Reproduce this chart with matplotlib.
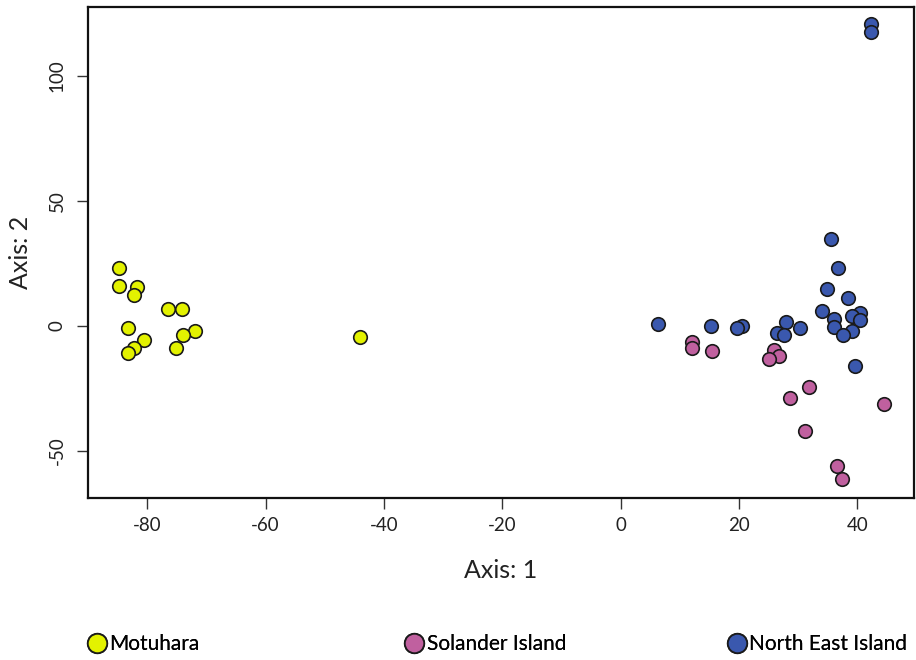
import matplotlib
matplotlib.use("Agg")
import matplotlib.pyplot as plt
from matplotlib.lines import Line2D

plt.rcParams['font.family'] = ['Lato', 'DejaVu Sans']
plt.rcParams['axes.unicode_minus'] = False

# ordination scores
moto_x = [-84.8, -84.8, -81.7, -82.3, -76.5, -74.1, -83.3, -71.9, -74.0,
          -80.6, -82.2, -75.1, -83.3, -44.0]
moto_y = [23.1, 16.0, 15.7, 12.4, 6.9, 6.9, -0.8, -1.9, -3.5,
          -5.5, -8.7, -8.7, -10.9, -4.4]

sol_x = [12.1, 12.1, 15.4, 26.0, 26.8, 25.1, 31.9, 28.7, 44.6, 31.1, 36.6, 37.5]
sol_y = [-6.3, -8.7, -9.9, -9.6, -12.1, -13.2, -24.3, -28.8, -31.3, -42.1, -56.0, -61.1]

ne_x = [42.4, 42.4, 35.6, 36.8, 34.9, 38.4, 34.0, 40.4, 39.1, 36.1, 40.4,
        6.3, 27.9, 15.3, 20.6, 19.7, 30.4, 36.0, 39.2, 26.5, 27.6, 37.6, 39.7]
ne_y = [120.7, 117.5, 34.7, 23.1, 14.8, 11.2, 6.0, 5.3, 4.1, 2.8, 2.4,
        0.8, 1.7, -0.1, 0.0, -0.9, -0.9, -0.3, -1.9, -2.8, -3.6, -3.6, -16.1]

groups = ['Motuhara', 'Solander Island', 'North East Island']
colors = ['#e3f200', '#c0609f', '#3a58ae']

fig = plt.figure(figsize=(9.16, 6.6), dpi=100)
ax = fig.add_axes([0.0961, 0.2455, 0.9017, 0.7439])

for xs, ys, c in zip([moto_x, sol_x, ne_x], [moto_y, sol_y, ne_y], colors):
    ax.scatter(xs, ys, s=95, c=c, edgecolors='#1a1a1a', linewidths=1.2, zorder=3)

ax.set_xlim(-90, 49.6)
ax.set_ylim(-68.8, 127.6)
ax.set_xticks([-80, -60, -40, -20, 0, 20, 40])
ax.set_yticks([-50, 0, 50, 100])
for s in ax.spines.values():
    s.set_linewidth(1.6)
    s.set_color('#111111')
ax.tick_params(length=8, width=1, labelsize=13.5, color='#333333', labelcolor='#222222')
ax.tick_params(axis='x', pad=6)
ax.tick_params(axis='y', pad=8)
for lab in ax.get_yticklabels():
    lab.set_rotation(90)
    lab.set_va('center')

ax.set_xlabel('Axis: 1', fontsize=18, labelpad=18, color='#222222')
ax.set_ylabel('Axis: 2', fontsize=18, labelpad=12, color='#222222')

# legend entries laid out along the bottom
leg_pos = [0.093, 0.440, 0.792]
for name, c, xpos in zip(groups, colors, leg_pos):
    h = Line2D([], [], marker='o', linestyle='', markersize=14,
               markerfacecolor=c, markeredgecolor='#1a1a1a', markeredgewidth=1.3)
    lg = fig.legend([h], [name], loc='center left', bbox_to_anchor=(xpos, 0.024),
                    frameon=False, fontsize=15, handletextpad=0.05,
                    handlelength=1.1, borderpad=0, borderaxespad=0)
    fig.add_artist(lg)

fig.savefig('out.png', dpi=100)
